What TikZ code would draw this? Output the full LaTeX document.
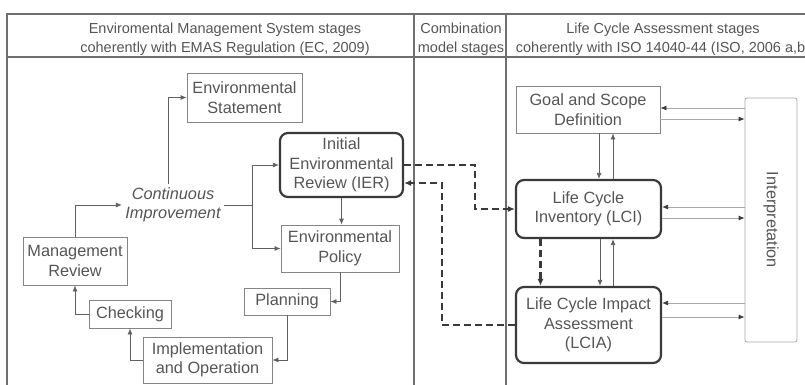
\documentclass[tikz,border=0pt]{standalone}
\usepackage{fontspec}
\setmainfont{Liberation Sans}
\usepackage{graphicx}
\usetikzlibrary{arrows.meta}
\definecolor{txtgray}{HTML}{555555}
\definecolor{boxgray}{HTML}{858585}
\definecolor{framegray}{HTML}{6E6E6E}
\definecolor{boldgray}{HTML}{3A3A3A}
\definecolor{linegray}{HTML}{606060}
\definecolor{lightline}{HTML}{A8A8A8}
\begin{document}
\begin{tikzpicture}[x=1pt, y=-1pt,
    every node/.style={text=txtgray, font=\fontsize{16.3}{19.5}\selectfont, align=center},
    head/.style={font=\fontsize{14.5}{19}\selectfont},
    box/.style={draw=boxgray, line width=0.8pt, inner sep=0pt},
    bold box/.style={draw=boldgray, line width=2.2pt, rounded corners=8pt, inner sep=0pt},
    frame/.style={draw=framegray, line width=1.2pt},
    arr/.style={draw=linegray, line width=0.8pt, -{Latex[length=6pt,width=5pt]}},
    side arr/.style={arr, draw=lightline, -{Latex[length=6pt,width=5pt,color=boldgray]}},
    dasharr/.style={draw=boldgray, line width=2.2pt, dash pattern=on 7pt off 4pt,
      -{Latex[length=7pt,width=6pt]}}]
    \useasboundingbox (0,0) rectangle (805,385);
    \draw[frame] (7,385) -- (7,14) -- (805,14);
    \draw[frame] (7,57) -- (805,57);
    \draw[frame] (414,14) -- (414,385);
    \draw[frame] (506,14) -- (506,385);

    \node[head] (emshead) at (225,39) {Enviromental Management System stages\\coherently with EMAS Regulation (EC, 2009)};
    \node[head] (combhead) at (461,39) {Combination\\model stages};
    \node[head] (lcahead) at (663,39) {Life Cycle Assessment stages\\coherently with ISO 14040-44 (ISO, 2006 a,b)};

    \node[box, minimum width=115, minimum height=49] (stmt) at (244.5,97.5) {Environmental\\Statement};
    \node[bold box, minimum width=123, minimum height=64] (ier) at (341.5,165) {Initial\\Environmental\\Review (IER)};
    \node[font=\fontsize{16.3}{19}\selectfont\itshape] (cont) at (173,205) {Continuous\\Improvement};
    \node[box, minimum width=118, minimum height=47] (pol) at (340,248.5) {Environmental\\Policy};
    \node[box, minimum width=86, minimum height=27] (plan) at (287,301.5) {Planning};
    \node[box, minimum width=129, minimum height=46] (impl) at (207.5,360) {Implementation\\and Operation};
    \node[box, minimum width=82, minimum height=28] (chk) at (130,314) {Checking};
    \node[box, minimum width=104, minimum height=48] (mgmt) at (75,261) {Management\\Review};

    \node[box, minimum width=144, minimum height=47] (goal) at (588,109.5) {Goal and Scope\\Definition};
    \node[bold box, minimum width=145, minimum height=58] (lci) at (588.5,209) {Life Cycle\\Inventory (LCI)};
    \node[bold box, minimum width=145, minimum height=76] (lcia) at (588.5,325) {Life Cycle Impact\\Assessment\\(LCIA)};
    \node[box, draw=lightline, rounded corners=2pt, minimum width=52, minimum height=244] (interp) at (771,220) {\rotatebox{-90}{Interpretation}};

    \coordinate (fork) at (252,205);
    \draw[arr] ([xshift=-5pt]cont.north) |- (stmt.west);
    \draw[linegray, line width=0.8pt] (cont.east) -- (fork);
    \draw[arr] (fork) |- (ier.west);
    \draw[arr] (fork) |- (pol.west);
    \draw[arr] (ier.south) -- (ier.south |- pol.north);
    \draw[arr] (pol.south) |- (plan.east);
    \draw[arr] (plan.south) |- (impl.east);
    \draw[arr] (impl.west) -| (chk.south);
    \draw[arr] (chk.west) -| (mgmt.south);
    \draw[arr] (mgmt.north) |- (cont.west);

    \draw[arr] ([xshift=11pt]goal.south) -- ([xshift=10.5pt]lci.north);
    \draw[arr] ([xshift=24.5pt]lci.north) -- ([xshift=25pt]goal.south);
    \draw[arr] ([xshift=11.5pt]lci.south) -- ([xshift=11.5pt]lcia.north);
    \draw[arr] ([xshift=24.5pt]lcia.north) -- ([xshift=24.5pt]lci.south);

    \draw[side arr] (interp.west |- 0,108) -- (goal.east |- 0,108);
    \draw[side arr] (goal.east |- 0,119) -- (interp.west |- 0,119);
    \draw[side arr] (interp.west |- 0,207) -- (lci.east |- 0,207);
    \draw[side arr] (lci.east |- 0,218) -- (interp.west |- 0,218);
    \draw[side arr] (interp.west |- 0,303) -- (lcia.east |- 0,303);
    \draw[side arr] (lcia.east |- 0,317) -- (interp.west |- 0,317);

    \draw[dasharr] (ier.east) -- ++(71,0) |- (lci.west);
    \draw[dasharr] (lcia.west) -- ++(-73,0) |- ([yshift=-18pt]ier.east);
    \draw[dasharr] ([xshift=-48pt]lci.south) -- ([xshift=-48pt]lcia.north);
\end{tikzpicture}
\end{document}
